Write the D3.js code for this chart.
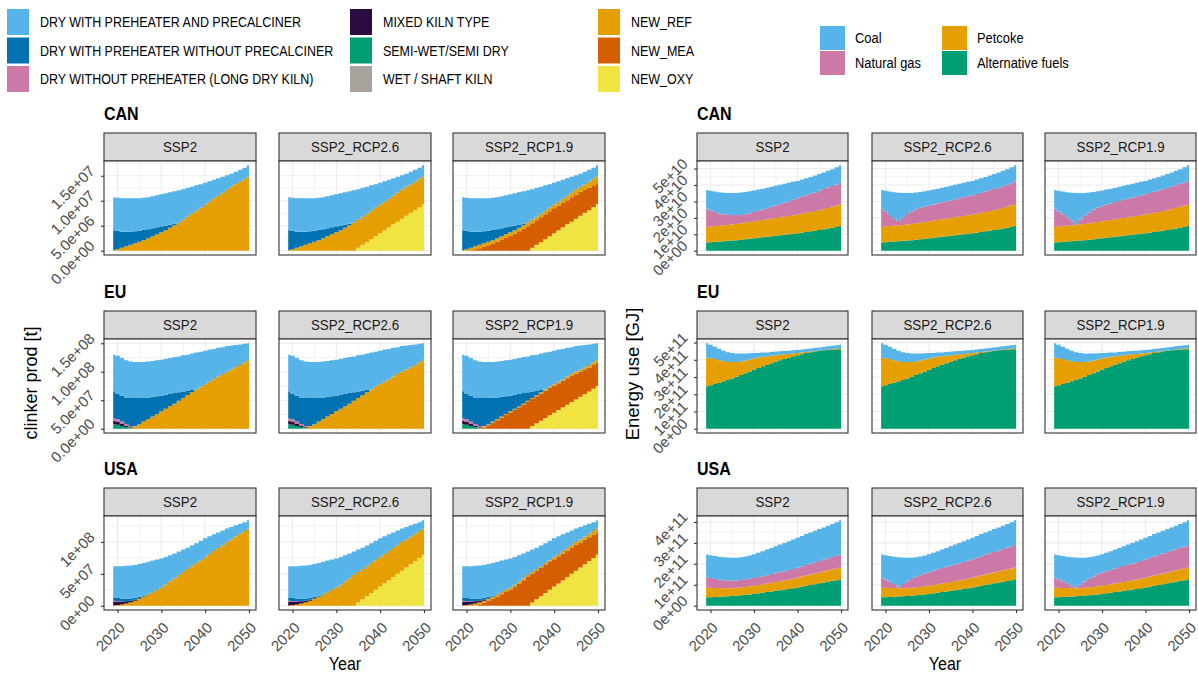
<!DOCTYPE html>
<html><head><meta charset="utf-8">
<script src="https://cdn.jsdelivr.net/npm/d3@7"></script>
<style>
body{margin:0;background:#fff;}
text{font-family:"Liberation Sans",Arial,Helvetica,sans-serif;}
</style>
</head><body>
<svg id="c" width="1198" height="675"></svg>
<script>
// ---------------- categories ----------------
const years = [2019,2020,2021,2022,2023,2024,2025,2026,2027,2028,2029,2030,2031,2032,2033,2034,2035,2036,2037,2038,2039,2040,2041,2042,2043,2044,2045,2046,2047,2048,2049,2050];
const regions = ["CAN","EU","USA"];
const scenarios = ["SSP2","SSP2_RCP2.6","SSP2_RCP1.9"];
const kilnTypes = ["DRY WITH PREHEATER AND PRECALCINER","DRY WITH PREHEATER WITHOUT PRECALCINER","DRY WITHOUT PREHEATER (LONG DRY KILN)","MIXED KILN TYPE","SEMI-WET/SEMI DRY","WET / SHAFT KILN","NEW_REF","NEW_MEA","NEW_OXY"];
const kilnColors = ["#56B4E9","#0072B2","#CC79A7","#2A0B42","#009E73","#A8A29C","#E69F00","#D55E00","#F0E442"];
const fuels = ["Coal","Natural gas","Petcoke","Alternative fuels"];
const fuelColors = ["#56B4E9","#CC79A7","#E69F00","#009E73"];

// ---------------- clinker production (Mt) ----------------
const canDryPC  = [6.6,6.6,6.7,6.7,6.7,6.6,6.5,6.4,6.4,6.4,6.4,6.4,6.5,6.5,6.5,6.5,6.1,5.8,5.4,5.1,4.7,4.4,4.1,3.8,3.5,3.2,2.9,2.6,2.5,2.4,2.2,2.2];
const canDryPre = [4.0,3.7,3.2,2.9,2.6,2.4,2.2,2.1,1.8,1.6,1.4,1.2,0.9,0.6,0.3,0,0,0,0,0,0,0,0,0,0,0,0,0,0,0,0,0];
const canRefSSP2 = [0.1,0.3,0.6,0.9,1.2,1.5,1.8,2.1,2.5,2.9,3.3,3.7,4.1,4.6,5.1,5.6,6.2,6.8,7.4,8.0,8.6,9.2,9.8,10.4,11.0,11.6,12.2,12.8,13.3,13.8,14.4,14.9];
const canRef26 = [0.1,0.3,0.6,0.9,1.2,1.5,1.8,2.1,2.5,2.9,3.3,3.7,4.1,4.6,5.1,5.6,5.6,5.6,5.7,5.7,5.7,5.7,5.7,5.7,5.7,5.8,5.8,5.8,5.7,5.7,5.7,5.6];
const canOxy26 = [0,0,0,0,0,0,0,0,0,0,0,0,0,0,0,0,0.6,1.2,1.7,2.3,2.9,3.5,4.1,4.7,5.3,5.8,6.4,7.0,7.6,8.1,8.7,9.3];
const canRef19 = [0.1,0.3,0.5,0.6,0.7,0.7,0.7,0.7,0.7,0.7,0.7,0.7,0.7,0.7,0.7,0.7,0.7,0.7,0.7,0.7,0.7,0.7,0.8,0.8,0.9,0.9,1.0,1.0,1.1,1.2,1.3,1.4];
const canMea19 = [0,0,0.1,0.3,0.5,0.8,1.1,1.4,1.8,2.2,2.6,3.0,3.4,3.9,4.4,4.9,4.9,4.9,5.0,5.0,5.0,5.0,4.9,4.9,4.8,4.9,4.8,4.8,4.6,4.5,4.4,4.2];
const canOxy19 = [0,0,0,0,0,0,0,0,0,0,0,0,0,0,0,0,0.6,1.2,1.7,2.3,2.9,3.5,4.1,4.7,5.3,5.8,6.4,7.0,7.6,8.1,8.7,9.3];

const euDryPC  = [64,66,66,65,64,63,63,62.5,63,63,63,63,63.5,63,63.5,63,63.5,63,64,65,61.5,59,56.5,53,50.5,47,45,42,39,36,32.5,29];
const euDryPre = [48,45.5,45.5,46.5,49,49,46,42,38,34.5,31,27.5,24.5,21.5,18.5,15,11.5,8,4,0,0,0,0,0,0,0,0,0,0,0,0,0];
const euLongDry = [4,4,3.5,3,2,1,0,0,0,0,0,0,0,0,0,0,0,0,0,0,0,0,0,0,0,0,0,0,0,0,0,0];
const euMixed   = [6,5.5,4,2.5,1,0,0,0,0,0,0,0,0,0,0,0,0,0,0,0,0,0,0,0,0,0,0,0,0,0,0,0];
const euSemiWet = [8,7,5,3,1,0,0,0,0,0,0,0,0,0,0,0,0,0,0,0,0,0,0,0,0,0,0,0,0,0,0,0];
const euRefSSP2 = [0,0,0,0,1,4,8,12.5,17,21.5,26,30.5,35,39.5,44,49,54,59,64,69,73.5,78,82.5,87,91.5,96,100,104,108,112,116.5,121];
const euRef19 = [0,0,0,0,1,2,2,2,2,2,2,2,2,2,2,2,2,2,2,2,2,2,2.5,3,3,3.5,3.5,4,4,4.5,4.5,5];
const euMea19 = [0,0,0,0,0,2,6,10.5,15,19.5,24,28.5,33,37.5,42,47,47.3,47.6,48,48.2,48,48,47,46.5,46.5,45.5,45,44,43,42,42,41];
const euOxy19 = [0,0,0,0,0,0,0,0,0,0,0,0,0,0,0,0,4.7,9.4,14,18.8,23.5,28,33,37.5,42,47,51.5,56,61,65.5,70,75];

const usaDryPC  = [49,49.7,50.5,51.5,51.5,51.5,51.3,51,50.3,49.5,48,46,43.5,41,39,37,35,33.5,32.5,31,30.5,30,28,26,24.5,23,21,19.5,17.5,15.5,14,13];
const usaDryPre = [5,4.8,4.5,4,3.5,3,2.5,2,1.2,0.5,0,0,0,0,0,0,0,0,0,0,0,0,0,0,0,0,0,0,0,0,0,0];
const usaLongDry = [1.5,1,0.5,0,0,0,0,0,0,0,0,0,0,0,0,0,0,0,0,0,0,0,0,0,0,0,0,0,0,0,0,0];
const usaMixed  = [6,5.5,4.5,3.5,2.5,1.5,0.7,0,0,0,0,0,0,0,0,0,0,0,0,0,0,0,0,0,0,0,0,0,0,0,0,0];
const usaRefSSP2 = [0.5,1,2,3.5,5.5,8,11,14,17.5,21,24.5,28,33,38,43,48,53,57.5,62,67,71.5,76,81,86,90.5,95,100,104,108.5,113,117,121];
const usaRef26 = [0.5,1,2,3.5,5.5,8,11,14,17.5,21,24.5,28,33,38,43,48,48,47.5,47,47,46.5,46,46,46,45.5,45,45,44,43.5,43,42,41];
const usaOxy26 = [0,0,0,0,0,0,0,0,0,0,0,0,0,0,0,0,5,10,15,20,25,30,35,40,45,50,55,60,65,70,75,80];
const usaRef19 = [0.5,1,2,3,3,3,3,3,3,3,3,3,3,3,3,3,3,3,3,3,3,3,3.5,4,4,4.5,4.5,5,5,5.5,5.5,6];
const usaMea19 = [0,0,0,0.5,2.5,5,8,11,14.5,18,21.5,25,30,35,40,45,45,44.5,44,44,43.5,43,42.5,42,41.5,40.5,40.5,39,38.5,37.5,36.5,35];
const usaOxy19 = [0,0,0,0,0,0,0,0,0,0,0,0,0,0,0,0,5,10,15,20,25,30,35,40,45,50,55,60,65,70,75,80];

// ---------------- energy use (1e9 GJ) ----------------
const canAlt  = [5.0,5.2,5.4,5.6,5.8,6.0,6.2,6.4,6.7,7.0,7.3,7.6,7.9,8.2,8.5,8.8,9.1,9.4,9.7,10.0,10.3,10.6,11.0,11.4,11.8,12.2,12.6,13.0,13.5,14.0,14.5,15.1];
const canPet  = [9.5,9.5,9.6,9.6,9.7,9.7,9.8,9.9,10.0,10.1,10.2,10.3,10.4,10.5,10.6,10.7,10.8,10.9,11.0,11.1,11.3,11.4,11.5,11.7,11.8,12.0,12.1,12.3,12.5,12.7,13.0,13.3];
const canGasSSP2  = [11.2,9.8,8.5,7.5,6.7,6.2,5.7,5.4,5.1,5.1,5.3,5.6,6.0,6.4,6.8,7.2,7.6,8.0,8.5,9.0,9.4,9.9,10.3,10.6,11.0,11.3,11.8,12.2,12.5,12.7,12.8,12.9];
const canCoalSSP2 = [11.3,12.0,12.5,12.9,13.1,13.2,13.4,13.5,13.6,13.6,13.4,13.2,12.9,12.6,12.4,12.2,12.0,11.8,11.5,11.2,10.9,10.6,10.5,10.4,10.3,10.3,10.2,10.1,10.1,10.2,10.5,10.7];
const canGas26  = [11.2,9.0,6.8,4.6,2.6,4.6,6.3,7.5,8.4,9.0,9.4,9.7,9.9,10.1,10.4,10.6,10.8,11.0,11.2,11.4,11.6,11.8,12.0,12.2,12.4,12.6,12.8,13.0,13.2,13.4,13.6,13.8];
const canCoal26 = [11.3,12.8,14.2,15.8,17.2,14.8,12.8,11.4,10.3,9.7,9.3,9.1,9.0,8.9,8.8,8.8,8.8,8.8,8.8,8.8,8.7,8.7,8.8,8.8,8.9,9.0,9.2,9.3,9.4,9.5,9.7,9.8];
const canGas19  = [11.2,9.2,7.2,5.2,3.0,0.4,3.0,5.0,6.6,7.8,8.6,9.2,9.7,10.1,10.5,10.8,11.1,11.4,11.7,12.0,12.2,12.4,12.6,12.8,13.0,13.2,13.4,13.6,13.8,14.0,14.2,14.4];
const canCoal19 = [11.3,12.6,13.8,15.2,16.8,19.0,16.1,13.9,12.1,10.9,10.1,9.6,9.2,8.9,8.7,8.6,8.5,8.4,8.3,8.2,8.1,8.1,8.2,8.2,8.3,8.4,8.6,8.7,8.8,8.9,9.1,9.2];

const euAlt  = [247,253,260,267,275,283,291,302,312,322,332,342,352,362,371,380,389,397,405,413,420,427,433,439,444,448,452,455,457,459,461,462];
const euPet  = [165,156,144,131,116,104,96,85,78,74,70,66,61,56,50,44,38,32,27,21,16,12,9,6,4,3,2,2,3,4,5,7];
const euCoal = [84,78,72,66,61,57,53,50,46,41,36,31,27,24,22,21,20,20,19,19,19,18,18,18,18,18,18,18,18,18,18,18];

const usaAlt = [40,41,42,43,44,45,46,48,50,52,54,56,59,62,65,68,71,74,77,80,83,87,91,95,99,103,107,111,115,119,122,126];
const usaPet = [46,45,43,42,40,39,38,38,38,38,39,39,40,40,41,42,42,43,44,45,46,47,48,49,50,51,52,53,54,55,56,57];
const usaGasSSP2  = [49,46,43,40,38,36,35,35,35,36,36,37,38,39,40,41,42,43,44,45,46,47,48,50,51,53,54,56,57,59,60,62];
const usaCoalSSP2 = [110,109,109,109,110,110,110,108,108,109,111,114,116,119,122,125,129,132,135,138,141,144,146,148,150,151,153,154,156,157,161,163];
const usaGas26  = [49,39,29,19,8,20,32,42,50,56,61,65,68,71,74,76,78,80,82,84,86,88,90,92,94,96,98,100,102,104,106,107];
const usaCoal26 = [110,116,123,130,140,126,113,101,93,89,86,86,86,87,88,90,93,95,97,99,101,103,104,106,107,108,109,110,111,112,115,118];
const usaGas19  = [49,40,31,22,12,3,16,30,41,50,57,62,66,69,72,75,77,79,81,83,85,87,89,91,93,95,97,99,101,103,105,107];
const usaCoal19 = [110,115,121,127,136,143,129,113,102,95,90,89,88,89,90,91,94,96,98,100,102,104,105,107,108,109,110,111,112,113,116,118];

// ---------------- tick labels ----------------
const clinkerTicks = {CAN:[0,5e6,1e7,1.5e7], EU:[0,5e7,1e8,1.5e8], USA:[0,5e7,1e8]};
const clinkerTickLabels = {CAN:["0.0e+00","5.0e+06","1.0e+07","1.5e+07"], EU:["0.0e+00","5.0e+07","1.0e+08","1.5e+08"], USA:["0e+00","5e+07","1e+08"]};
const energyTicks = {CAN:[0,1e10,2e10,3e10,4e10,5e10], EU:[0,1e11,2e11,3e11,4e11,5e11], USA:[0,1e11,2e11,3e11,4e11]};
const energyTickLabels = {CAN:["0e+00","1e+10","2e+10","3e+10","4e+10","5e+10"], EU:["0e+00","1e+11","2e+11","3e+11","4e+11","5e+11"], USA:["0e+00","1e+11","2e+11","3e+11","4e+11"]};
const yearTicks = [2020,2030,2040,2050];
const yearMinor = [2025,2035,2045];

// ---------------- tables built from arrays ----------------
const K = kilnTypes;
const clinker = {
  CAN: {
    "SSP2":        {[K[0]]:canDryPC,[K[1]]:canDryPre,[K[6]]:canRefSSP2},
    "SSP2_RCP2.6": {[K[0]]:canDryPC,[K[1]]:canDryPre,[K[6]]:canRef26,[K[8]]:canOxy26},
    "SSP2_RCP1.9": {[K[0]]:canDryPC,[K[1]]:canDryPre,[K[6]]:canRef19,[K[7]]:canMea19,[K[8]]:canOxy19}
  },
  EU: {
    "SSP2":        {[K[0]]:euDryPC,[K[1]]:euDryPre,[K[2]]:euLongDry,[K[3]]:euMixed,[K[4]]:euSemiWet,[K[6]]:euRefSSP2},
    "SSP2_RCP2.6": {[K[0]]:euDryPC,[K[1]]:euDryPre,[K[2]]:euLongDry,[K[3]]:euMixed,[K[4]]:euSemiWet,[K[6]]:euRefSSP2},
    "SSP2_RCP1.9": {[K[0]]:euDryPC,[K[1]]:euDryPre,[K[2]]:euLongDry,[K[3]]:euMixed,[K[4]]:euSemiWet,[K[6]]:euRef19,[K[7]]:euMea19,[K[8]]:euOxy19}
  },
  USA: {
    "SSP2":        {[K[0]]:usaDryPC,[K[1]]:usaDryPre,[K[2]]:usaLongDry,[K[3]]:usaMixed,[K[6]]:usaRefSSP2},
    "SSP2_RCP2.6": {[K[0]]:usaDryPC,[K[1]]:usaDryPre,[K[2]]:usaLongDry,[K[3]]:usaMixed,[K[6]]:usaRef26,[K[8]]:usaOxy26},
    "SSP2_RCP1.9": {[K[0]]:usaDryPC,[K[1]]:usaDryPre,[K[2]]:usaLongDry,[K[3]]:usaMixed,[K[6]]:usaRef19,[K[7]]:usaMea19,[K[8]]:usaOxy19}
  }
};
const energy = {
  CAN: {
    "SSP2":        {Coal:canCoalSSP2,"Natural gas":canGasSSP2,Petcoke:canPet,"Alternative fuels":canAlt},
    "SSP2_RCP2.6": {Coal:canCoal26,"Natural gas":canGas26,Petcoke:canPet,"Alternative fuels":canAlt},
    "SSP2_RCP1.9": {Coal:canCoal19,"Natural gas":canGas19,Petcoke:canPet,"Alternative fuels":canAlt}
  },
  EU: {
    "SSP2":        {Coal:euCoal,Petcoke:euPet,"Alternative fuels":euAlt},
    "SSP2_RCP2.6": {Coal:euCoal,Petcoke:euPet,"Alternative fuels":euAlt},
    "SSP2_RCP1.9": {Coal:euCoal,Petcoke:euPet,"Alternative fuels":euAlt}
  },
  USA: {
    "SSP2":        {Coal:usaCoalSSP2,"Natural gas":usaGasSSP2,Petcoke:usaPet,"Alternative fuels":usaAlt},
    "SSP2_RCP2.6": {Coal:usaCoal26,"Natural gas":usaGas26,Petcoke:usaPet,"Alternative fuels":usaAlt},
    "SSP2_RCP1.9": {Coal:usaCoal19,"Natural gas":usaGas19,Petcoke:usaPet,"Alternative fuels":usaAlt}
  }
};

// ---------------- layout ----------------
const svg = d3.select("#c");
const FONT = '"Liberation Sans",Arial,Helvetica,sans-serif';
const SX = 0.89;   // horizontal text compression seen in the reference
const xLimits = [2016.9, 2051.6];
const blocks = [
  {x0:[104,279,453], w:152, data:clinker, keys:kilnTypes, colors:kilnColors, unit:1e6, ticks:clinkerTicks, labels:clinkerTickLabels},
  {x0:[697,872,1045], w:151, data:energy, keys:fuels, colors:fuelColors, unit:1e9, ticks:energyTicks, labels:energyTickLabels}
];
const rowTop = [133,311,488];
const stripH = 28, plotH = 94;

function hText(x, y, str, size, opts={}){
  const t = svg.append("text").attr("transform",`translate(${x},${y}) scale(${SX},1)`)
    .attr("font-size",size).attr("fill",opts.fill||"#000").text(str);
  if(opts.anchor) t.attr("text-anchor",opts.anchor);
  if(opts.bold) t.attr("font-weight","bold");
  if(opts.dy) t.attr("dy",opts.dy);
  return t;
}

function stackRows(obj, keys, unit){
  return years.map((yr,i)=>{
    const o = {year:yr};
    keys.forEach(k=>{ o[k] = obj[k] ? obj[k][i]*unit : 0; });
    return o;
  });
}

blocks.forEach((b,bi)=>{
  const color = d3.scaleOrdinal().domain(b.keys).range(b.colors);
  const stackKeys = b.keys.slice().reverse();
  regions.forEach((reg,ri)=>{
    const top = rowTop[ri];
    hText(b.x0[0], top-13, reg, 18, {bold:true});
    const stacks = scenarios.map(s=>d3.stack().keys(stackKeys)(stackRows(b.data[reg][s], stackKeys, b.unit)));
    const M = d3.max(stacks, st=>d3.max(st[st.length-1], d=>d[1]));
    const y = d3.scaleLinear().domain([-0.05*M, 1.05*M]).range([top+stripH+plotH, top+stripH]);
    const ticks = b.ticks[reg];
    const step = ticks[1]-ticks[0];
    const minor = [];
    for(let v=ticks[0]-step/2; v<=1.05*M; v+=step){ if(v>=-0.05*M) minor.push(v); }

    scenarios.forEach((s,si)=>{
      const x0 = b.x0[si], w = b.w;
      const x = d3.scaleLinear().domain(xLimits).range([x0, x0+w]);
      const g = svg.append("g");
      const py0 = top+stripH, py1 = top+stripH+plotH;
      // strip
      g.append("rect").attr("x",x0).attr("y",top).attr("width",w).attr("height",stripH)
        .attr("fill","#D9D9D9").attr("stroke","#333333").attr("stroke-width",1.1);
      g.append("text").attr("transform",`translate(${x0+w/2},${top+stripH/2}) scale(${SX},1)`).attr("dy","0.36em")
        .attr("text-anchor","middle").attr("font-size",15).attr("fill","#1A1A1A").text(s);
      // panel background + grid
      g.append("rect").attr("x",x0).attr("y",py0).attr("width",w).attr("height",plotH).attr("fill","#fff");
      const grid = g.append("g").attr("stroke","#EBEBEB");
      grid.selectAll(".ym").data(minor).join("line")
        .attr("x1",x0).attr("x2",x0+w).attr("y1",d=>y(d)).attr("y2",d=>y(d)).attr("stroke-width",0.6);
      grid.selectAll(".xm").data(yearMinor).join("line")
        .attr("y1",py0).attr("y2",py1).attr("x1",d=>x(d)).attr("x2",d=>x(d)).attr("stroke-width",0.6);
      grid.selectAll(".yM").data(ticks).join("line")
        .attr("x1",x0).attr("x2",x0+w).attr("y1",d=>y(d)).attr("y2",d=>y(d)).attr("stroke-width",1.1);
      grid.selectAll(".xM").data(yearTicks).join("line")
        .attr("y1",py0).attr("y2",py1).attr("x1",d=>x(d)).attr("x2",d=>x(d)).attr("stroke-width",1.1);
      // stacked areas
      const area = d3.area().x(d=>x(d.data.year)).y0(d=>y(d[0])).y1(d=>y(d[1])).curve(d3.curveStep);
      g.append("g").selectAll("path").data(stacks[si]).join("path")
        .attr("d",area).attr("fill",d=>color(d.key)).attr("stroke","none");
      // border
      g.append("rect").attr("x",x0).attr("y",py0).attr("width",w).attr("height",plotH)
        .attr("fill","none").attr("stroke","#333333").attr("stroke-width",1.1);
      // y axis
      if(si===0){
        const ax = g.append("g").attr("transform",`translate(${x0},0)`)
          .call(d3.axisLeft(y).tickValues(ticks).tickFormat((d,i)=>b.labels[reg][i]).tickSize(3).tickPadding(0));
        ax.select(".domain").remove();
        ax.selectAll("line").attr("stroke","#333333").attr("stroke-width",1.1);
        ax.selectAll("text").attr("x",0).attr("dy","0.35em")
          .attr("transform","translate(-12,-8) rotate(-45)")
          .attr("font-size",15).attr("font-family",FONT).attr("fill","#4D4D4D").attr("text-anchor","end");
      }
      // x axis (bottom row only)
      if(ri===2){
        const ax = g.append("g").attr("transform",`translate(0,${py1})`)
          .call(d3.axisBottom(x).tickValues(yearTicks).tickFormat(d3.format("d")).tickSize(3).tickPadding(0));
        ax.select(".domain").remove();
        ax.selectAll("line").attr("stroke","#333333").attr("stroke-width",1.1);
        ax.selectAll("text").attr("y",0).attr("dy","0.35em")
          .attr("transform","translate(4,15) rotate(-45)")
          .attr("font-size",15).attr("font-family",FONT).attr("fill","#4D4D4D").attr("text-anchor","end");
      }
    });
  });
});

// axis titles
svg.append("text").attr("transform","translate(37,383) rotate(-90)").attr("text-anchor","middle")
  .attr("font-size",18).attr("fill","#000").text("clinker prod [t]");
svg.append("text").attr("transform","translate(639,374) rotate(-90)").attr("text-anchor","middle")
  .attr("font-size",18.5).attr("fill","#000").text("Energy use [GJ]");
hText(345, 670, "Year", 18, {anchor:"middle"});
hText(945, 670, "Year", 18, {anchor:"middle"});

// legends
const kilnLegendX = [7,350,598], kilnLegendY = [9,37.5,66];
kilnTypes.forEach((k,i)=>{
  const cx = kilnLegendX[Math.floor(i/3)], cy = kilnLegendY[i%3];
  svg.append("rect").attr("x",cx).attr("y",cy).attr("width",22).attr("height",26).attr("fill",kilnColors[i]);
  hText(cx+33, cy+13, k, 14, {dy:"0.36em"});
});
const fuelLegendX = [820,942], fuelLegendY = [26,51];
fuels.forEach((f,i)=>{
  const cx = fuelLegendX[Math.floor(i/2)], cy = fuelLegendY[i%2];
  svg.append("rect").attr("x",cx).attr("y",cy).attr("width",25).attr("height",24).attr("fill",fuelColors[i]);
  hText(cx+35, cy+12, f, 14.5, {dy:"0.36em"});
});
</script>
</body></html>
